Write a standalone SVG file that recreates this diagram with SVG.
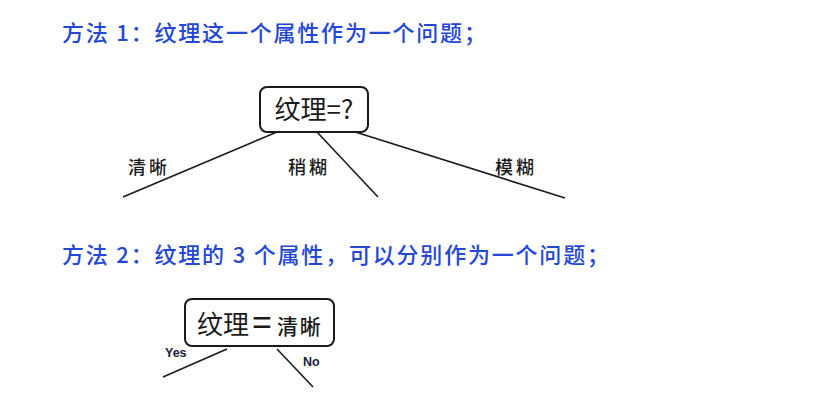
<svg xmlns="http://www.w3.org/2000/svg" width="825" height="412" viewBox="0 0 825 412">
<style>
.title{font-family:"Noto Sans CJK SC","Noto Sans",sans-serif;font-size:22px;font-weight:500;fill:#2447d6;letter-spacing:1.8px}
.box{fill:#ffffff;stroke:#1a1a1a;stroke-width:2}
.node{font-family:"Noto Sans CJK SC",sans-serif;fill:#1a1a1a}
.edge{stroke:#1a1a1a;stroke-width:1.6;fill:none}
.elab{font-family:"Noto Sans CJK SC",sans-serif;font-size:18px;font-weight:500;fill:#1a1a1a;letter-spacing:3px}
.yn{font-family:"Liberation Sans",Arial,sans-serif;font-size:12.5px;font-weight:bold;fill:#1c1c3a}
</style>
<rect width="825" height="412" fill="#ffffff"/>
<text class="title" x="62" y="41">方法 1：纹理这一个属性作为一个问题；</text>
<text class="title" x="62" y="263">方法 2：纹理的 3 个属性，可以分别作为一个问题；</text>
<g id="connectors">
<line class="edge" x1="277" y1="132" x2="123" y2="197"/>
<line class="edge" x1="317" y1="132" x2="378" y2="197"/>
<line class="edge" x1="352" y1="131" x2="565" y2="198"/>
<line class="edge" x1="227" y1="349" x2="163" y2="377"/>
<line class="edge" x1="277" y1="349" x2="313" y2="387"/>
<text class="elab" x="128" y="174">清晰</text>
<text class="elab" x="288" y="174">稍糊</text>
<text class="elab" x="495" y="174">模糊</text>
<text class="yn" x="165" y="357">Yes</text>
<text class="yn" x="303" y="366">No</text>
</g>
<g id="node-q1">
<rect class="box" x="260" y="87" width="108" height="45" rx="7"/>
<text class="node" x="314" y="119" font-size="26" text-anchor="middle">纹理=?</text>
</g>
<g id="node-q2">
<rect class="box" x="185" y="299" width="149" height="47" rx="7"/>
<text class="node" x="197" y="334" font-size="26">纹理<tspan dx="3" font-family="Liberation Sans, Arial, sans-serif" font-size="34">=</tspan><tspan dx="5" font-size="21" font-weight="500" letter-spacing="2">清晰</tspan></text>
</g>
</svg>
